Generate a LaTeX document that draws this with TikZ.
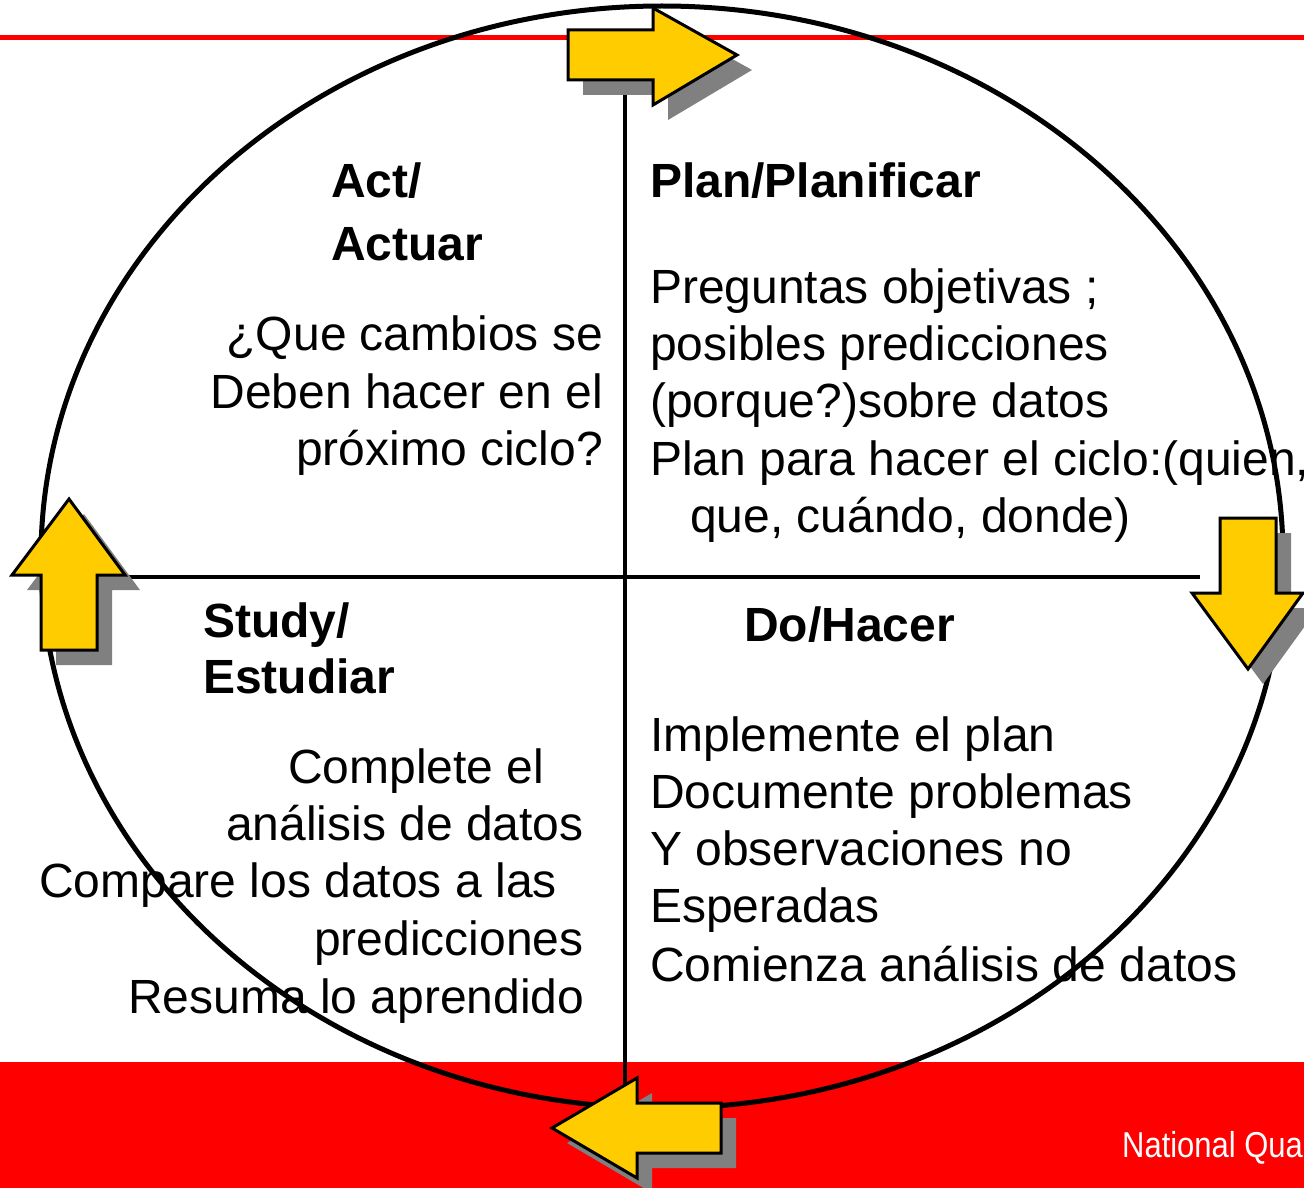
\documentclass[tikz,border=0pt]{standalone}
\usepackage{fontspec}
\setmainfont{Liberation Sans}
\definecolor{arrowyellow}{HTML}{FFCC00}
\definecolor{shadowgray}{HTML}{808080}
\definecolor{bandred}{HTML}{FF0000}
\begin{document}
\begin{tikzpicture}[x=1pt,y=-1pt,
  ar/.style={fill=arrowyellow,draw=black,line width=3pt,line join=miter},
  sh/.style={fill=shadowgray},
  txt/.style={inner sep=0pt,anchor=base west,font=\fontsize{48}{57.5}\selectfont},
  txtr/.style={inner sep=0pt,anchor=base east,font=\fontsize{48}{57.5}\selectfont},
  hd/.style={inner sep=0pt,anchor=base west,font=\fontsize{48}{57.5}\selectfont\bfseries},
  thick line/.style={line width=5pt}]
\useasboundingbox (0,0) rectangle (1304,1188);
\clip (0,0) rectangle (1304,1188);
% red rule and band
\fill[bandred] (0,35.5) rectangle (1304,40.5);
\fill[bandred] (0,1062) rectangle (1304,1188);
\node[inner sep=0pt,anchor=base west,text=white,xscale=0.86,font=\fontsize{36}{40}\selectfont] (footer) at (1122,1157) {National Qua};
% ellipse and cross
\draw[thick line] (662,557) ellipse [x radius=621, y radius=551];
\draw[line width=4.5pt] (625,80) -- (625,1110);
\draw[line width=4.5pt] (100,577) -- (1200,577);
% top arrow (right)
\fill[sh,shift={(15,15)}] (568,30)--(653,30)--(653,8)--(737,55)--(653,105)--(653,80)--(568,80)--cycle;
\draw[ar] (568,30)--(653,30)--(653,8)--(737,55)--(653,105)--(653,80)--(568,80)--cycle;
% left arrow (up)
\fill[sh,shift={(15,15)}] (41,650)--(41,575)--(12,575)--(69,499)--(125,575)--(97,575)--(97,650)--cycle;
\draw[ar] (41,650)--(41,575)--(12,575)--(69,499)--(125,575)--(97,575)--(97,650)--cycle;
% right arrow (down)
\fill[sh,shift={(15,15)}] (1220,518)--(1276,518)--(1276,593)--(1303,593)--(1248,669)--(1192,593)--(1220,593)--cycle;
\draw[ar] (1220,518)--(1276,518)--(1276,593)--(1303,593)--(1248,669)--(1192,593)--(1220,593)--cycle;
% bottom arrow (left)
\fill[sh,shift={(15,15)}] (721,1103)--(637,1103)--(637,1078)--(552,1128)--(637,1178)--(637,1153)--(721,1153)--cycle;
\draw[ar] (721,1103)--(637,1103)--(637,1078)--(552,1128)--(637,1178)--(637,1153)--(721,1153)--cycle;
% Act quadrant
\node[hd] (act1) at (331,197) {Act/};
\node[hd] (act2) at (331,260) {Actuar};
\node[txtr] (a1) at (603,350) {¿Que cambios se};
\node[txtr] (a2) at (603,408) {Deben hacer en el};
\node[txtr] (a3) at (603,465) {próximo ciclo?};
% Plan quadrant
\node[hd] (plan) at (650,197) {Plan/Planificar};
\node[txt] (p1) at (650,303) {Preguntas objetivas ;};
\node[txt] (p2) at (650,360) {posibles predicciones};
\node[txt] (p3) at (650,417) {(porque?)sobre datos};
\node[txt] (p4) at (650,475) {Plan para hacer el ciclo:(quien,};
\node[txt] (p5) at (690,532) {que, cuándo, donde)};
% Study quadrant
\node[hd] (st1) at (203,637) {Study/};
\node[hd] (st2) at (203,693) {Estudiar};
\node[txt] (s1) at (288,783) {Complete el};
\node[txt] (s2) at (226,840) {análisis de datos};
\node[txt] (s3) at (39,897) {Compare los datos a las};
\node[txt] (s4) at (314,955) {predicciones};
\node[txt] (s5) at (128,1013) {Resuma lo aprendido};
% Do quadrant
\node[hd] (do) at (744,641) {Do/Hacer};
\node[txt] (d1) at (650,751) {Implemente el plan};
\node[txt] (d2) at (650,808) {Documente problemas};
\node[txt] (d3) at (650,865) {Y observaciones no};
\node[txt] (d4) at (650,922) {Esperadas};
\node[txt] (d5) at (650,981) {Comienza análisis de datos};
\end{tikzpicture}
\end{document}
